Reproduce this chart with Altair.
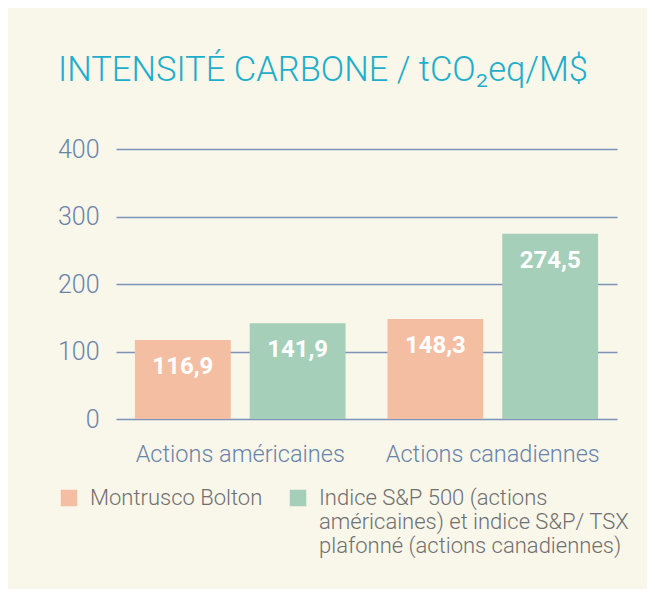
import altair as alt
import pandas as pd

groups = ["Actions américaines", "Actions canadiennes"]
series = ["Montrusco Bolton||",
          "Indice S&P 500 (actions|américaines) et indice S&P/ TSX|plafonné (actions canadiennes)"]
montrusco = [116.9, 148.3]
indice = [141.9, 274.5]
labels_m = ["116,9", "148,3"]
labels_i = ["141,9", "274,5"]
colors = ["#f4bea3", "#a5cfb8"]

rows = []
for g, v, l in zip(groups, montrusco, labels_m):
    rows.append({"groupe": g, "serie": series[0], "valeur": v, "etiquette": l})
for g, v, l in zip(groups, indice, labels_i):
    rows.append({"groupe": g, "serie": series[1], "valeur": v, "etiquette": l})
df = pd.DataFrame(rows)

FONT = "Roboto"
AXIS_COL = "#6a84a9"

x = alt.X("groupe:N", sort=groups, title=None,
          scale=alt.Scale(paddingInner=0.166, paddingOuter=0.075),
          axis=alt.Axis(labelAngle=0, labelFont=FONT, labelFontSize=23.5, labelFontWeight=300,
                        labelColor=AXIS_COL, labelPadding=23, ticks=False, domain=False,
                        grid=False, labelLimit=300))
xo = alt.XOffset("serie:N", sort=series, scale=alt.Scale(paddingInner=0.165, paddingOuter=0))

base = alt.Chart(df).encode(x=x, xOffset=xo)

bars = base.mark_bar().encode(
    y=alt.Y("valeur:Q", title=None,
            scale=alt.Scale(domain=[0, 400]),
            axis=alt.Axis(values=[0, 100, 200, 300, 400], labelFont=FONT, labelFontSize=25,
                          labelFontWeight=300, labelColor=AXIS_COL, labelPadding=17,
                          ticks=False, domain=False, grid=True, gridColor="#7d93b7",
                          gridWidth=1.5)),
    color=alt.Color("serie:N", sort=series,
                    scale=alt.Scale(domain=series, range=colors),
                    legend=alt.Legend(title=None, orient="none", direction="horizontal",
                                      legendX=-58, legendY=338,
                                      symbolType="square", symbolSize=272,
                                      symbolStrokeWidth=0, symbolOpacity=1,
                                      labelFont=FONT, labelFontSize=22, labelFontWeight=300,
                                      labelColor="#707070", labelOffset=10, labelLimit=400,
                                      columnPadding=24,
                                      labelExpr="split(datum.label, '|')")),
)

text = base.mark_text(font=FONT, fontSize=24, fontWeight="bold", color="white",
                      baseline="alphabetic", dy=34).encode(
    y=alt.Y("valeur:Q"),
    text="etiquette:N",
)

chart = alt.layer(bars, text).properties(
    width=501, height=270,
    padding={"left": 108, "top": 141, "right": 30, "bottom": 170},
    autosize=alt.AutoSizeParams(type="none"),
    background="#f9f6ea",
    title=alt.TitleParams("INTENSITÉ CARBONE / tCO₂eq/M$", anchor="start", frame="group",
                          font=FONT, fontSize=34.5, fontWeight=300, color="#1eaecb",
                          baseline="alphabetic", dx=-58, offset=22),
).configure_view(stroke=None)

chart.save("out.html", embed_options={"renderer": "svg", "actions": False})
